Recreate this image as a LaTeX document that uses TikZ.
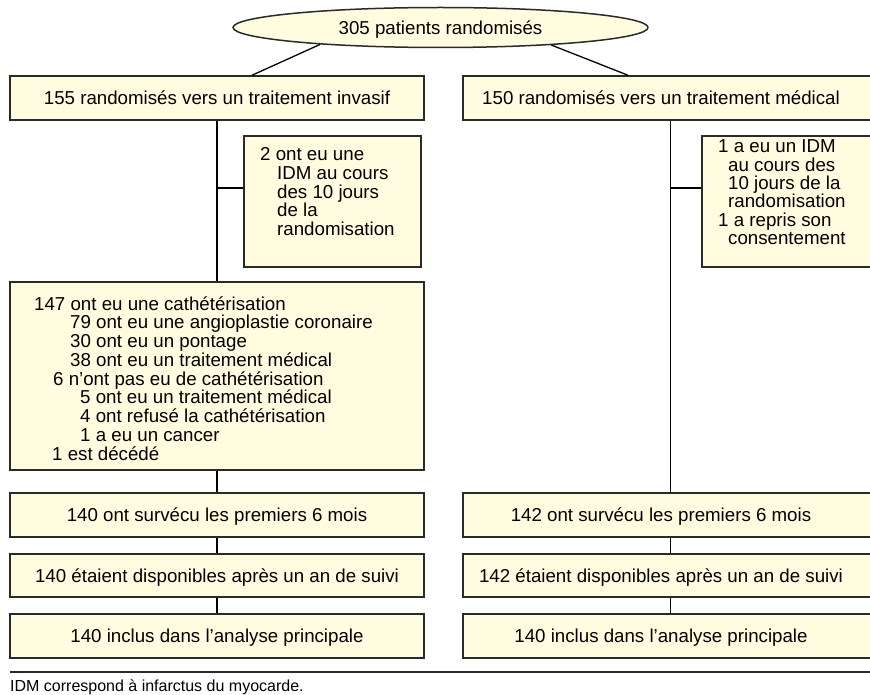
\documentclass[tikz,border=0pt]{standalone}
\usepackage{fontspec}
\setmainfont{Liberation Sans}
\usetikzlibrary{shapes.geometric}
\definecolor{boxfill}{HTML}{FFFCE0}
\definecolor{edgecol}{HTML}{2A2A2A}
\begin{document}
\begin{tikzpicture}[x=1pt,y=-1pt,
  txt/.style={font=\fontsize{18.7}{18.7}\selectfont},
  box/.style={txt, draw=edgecol, line width=1.5pt, fill=boxfill, inner sep=0pt,
    text height=13.4pt, text depth=0pt},
  oval/.style={box, ellipse},
  ln/.style={txt, anchor=base west, inner sep=0pt},
  conn/.style={draw=black, line width=1.3pt}]
\useasboundingbox (0,0) rectangle (870,695);
\clip (0,0) rectangle (870,695);

% top
\node[oval, minimum width=415pt, minimum height=40pt] (top) at (440.5,27.5) {305 patients randomisés};

% left column
\node[box, minimum width=414pt, minimum height=44pt] (L1) at (217,98) {155 randomisés vers un traitement invasif};
\node[box, minimum width=177pt, minimum height=131pt] (LS) at (332.5,201.5) {};
\node[box, minimum width=414pt, minimum height=188pt] (L2) at (217,376) {};
\node[box, minimum width=414pt, minimum height=44pt] (L3) at (217,515) {140 ont survécu les premiers 6 mois};
\node[box, minimum width=414pt, minimum height=43pt] (L4) at (217,575.5) {140 étaient disponibles après un an de suivi};
\node[box, minimum width=414pt, minimum height=44pt] (L5) at (217,636) {140 inclus dans l’analyse principale};

% right column
\node[box, minimum width=415pt, minimum height=44pt] (R1) at (670.5,98) {\hspace*{-19pt}150 randomisés vers un traitement médical};
\node[box, minimum width=180pt, minimum height=131pt] (RS) at (792,201.5) {};
\node[box, minimum width=415pt, minimum height=44pt] (R3) at (670.5,515) {\hspace*{-19pt}142 ont survécu les premiers 6 mois};
\node[box, minimum width=415pt, minimum height=43pt] (R4) at (670.5,575.5) {\hspace*{-19pt}142 étaient disponibles après un an de suivi};
\node[box, minimum width=415pt, minimum height=44pt] (R5) at (670.5,636) {\hspace*{-19pt}140 inclus dans l’analyse principale};

% left side box text
\node[ln] (ls1) at (260,160.7) {2 ont eu une};
\node[ln] (ls2) at (277,179.4) {IDM au cours};
\node[ln] (ls3) at (277,198.1) {des 10 jours};
\node[ln] (ls4) at (277,216.8) {de la};
\node[ln] (ls5) at (277,235.5) {randomisation};

% right side box text
\node[ln] (rs1) at (718,152.7) {1 a eu un IDM};
\node[ln] (rs2) at (728,171.1) {au cours des};
\node[ln] (rs3) at (728,189.5) {10 jours de la};
\node[ln] (rs4) at (728,207.9) {randomisation};
\node[ln] (rs5) at (718,226.3) {1 a repris son};
\node[ln] (rs6) at (728,244.7) {consentement};

% 147 box text
\node[ln] (c1) at (34,310) {147 ont eu une cathétérisation};
\node[ln] (c2) at (70,328.75) {79 ont eu une angioplastie coronaire};
\node[ln] (c3) at (70,347.5) {30 ont eu un pontage};
\node[ln] (c4) at (70,366.25) {38 ont eu un traitement médical};
\node[ln] (c5) at (53,385) {6 n’ont pas eu de cathétérisation};
\node[ln] (c6) at (80,403.75) {5 ont eu un traitement médical};
\node[ln] (c7) at (80,422.5) {4 ont refusé la cathétérisation};
\node[ln] (c8) at (80,441.25) {1 a eu un cancer};
\node[ln] (c9) at (52,460) {1 est décédé};

% connectors
\draw[conn] (top.188.5) -- ([xshift=35pt]L1.north);
\draw[conn] (top.351.5) -- ([xshift=-42.5pt]R1.north);
\draw[conn] (L1.south) -- (L2.north);
\coordinate (lsw) at ([yshift=13.5pt]LS.west);
\draw[conn] (lsw) -- (lsw -| L1.south);
\draw[conn] (L2.south) -- (L3.north);
\draw[conn] (L3.south) -- (L4.north);
\draw[conn] (L4.south) -- (L5.north);
\draw[conn] (R1.south) -- (R3.north);
\coordinate (rsw) at ([yshift=13.5pt]RS.west);
\draw[conn] (rsw) -- (rsw -| R1.south);
\draw[conn] (R3.south) -- (R4.north);
\draw[conn] (R4.south) -- (R5.north);

% footer
\draw[draw=edgecol, line width=1.5pt] (10,672) -- (870,672);
\node[anchor=base west, inner sep=0pt, font=\fontsize{16}{16}\selectfont] (foot) at (10,691.5) {IDM correspond à infarctus du myocarde.};
\end{tikzpicture}
\end{document}
